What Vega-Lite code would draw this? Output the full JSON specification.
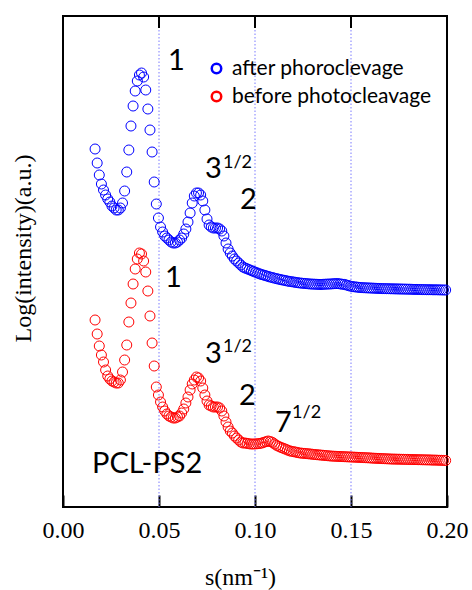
{
"$schema": "https://vega.github.io/schema/vega-lite/v6.json",
"width": 384, "height": 491,
"autosize": {"type": "none"},
"padding": {"left": 63, "top": 16, "right": 25, "bottom": 83},
"background": "white",
"config": {"view": {"stroke": "black", "strokeWidth": 2}},
"resolve": {"axis": {"x": "independent", "y": "independent"}},
"layer": [
{
"data": {"values": [{"s": 0.05}, {"s": 0.10}, {"s": 0.15}]},
"mark": {"type": "rule", "color": "#7b7bff", "strokeWidth": 1, "strokeDash": [1.5, 2]},
"encoding": {
"x": {"field": "s", "type": "quantitative", "scale": {"domain": [0, 0.2], "nice": false}, "axis": null}
}
},
{
"data": {"values": [{"s": 0.05}, {"s": 0.10}, {"s": 0.15}]},
"mark": {"type": "rule", "color": "black", "strokeWidth": 2, "opacity": 1, "strokeOpacity": 1, "strokeDash": [12, 0.01]},
"encoding": {
"x": {"field": "s", "type": "quantitative", "axis": null},
"y": {"datum": 479, "type": "quantitative", "scale": {"domain": [0, 491], "nice": false}, "axis": null},
"y2": {"datum": 491}
}
},
{
"data": {"values": [
{"s":0.0167,"after":358,"before":187},{"s":0.0178,"after":344,"before":173},{"s":0.0189,"after":332,"before":161},{"s":0.0200,"after":323,"before":152},{"s":0.0211,"after":317,"before":145},{"s":0.0222,"after":312,"before":137},{"s":0.0233,"after":308,"before":131},{"s":0.0244,"after":305,"before":128},{"s":0.0255,"after":301,"before":126},{"s":0.0266,"after":299,"before":125},
{"s":0.0277,"after":297,"before":124},{"s":0.0288,"after":297,"before":124},{"s":0.0299,"after":299,"before":127},{"s":0.0310,"after":304,"before":135},{"s":0.0321,"after":316,"before":147},{"s":0.0332,"after":335,"before":162},{"s":0.0343,"after":357,"before":185},{"s":0.0354,"after":381,"before":204},{"s":0.0365,"after":401,"before":223},{"s":0.0376,"after":416,"before":238},
{"s":0.0387,"after":426,"before":248},{"s":0.0398,"after":432,"before":254},{"s":0.0409,"after":434,"before":253},{"s":0.0420,"after":430,"before":246},{"s":0.0431,"after":417,"before":235},{"s":0.0442,"after":398,"before":216},{"s":0.0453,"after":377,"before":191},{"s":0.0464,"after":355,"before":164},{"s":0.0475,"after":325,"before":141},{"s":0.0486,"after":303,"before":120},
{"s":0.0497,"after":289,"before":112},{"s":0.0508,"after":280,"before":105},{"s":0.0519,"after":275,"before":100},{"s":0.0530,"after":271,"before":96},{"s":0.0541,"after":269,"before":93},{"s":0.0552,"after":267,"before":91},{"s":0.0563,"after":265,"before":90},{"s":0.0574,"after":264,"before":89},{"s":0.0585,"after":264,"before":89},{"s":0.0596,"after":265,"before":90},
{"s":0.0607,"after":267,"before":91},{"s":0.0618,"after":269,"before":94},{"s":0.0629,"after":273,"before":98},{"s":0.0640,"after":278,"before":104},{"s":0.0651,"after":285,"before":110},{"s":0.0662,"after":294,"before":117},{"s":0.0673,"after":304,"before":123},{"s":0.0684,"after":311,"before":127},{"s":0.0695,"after":314,"before":130},{"s":0.0706,"after":314,"before":129},
{"s":0.0717,"after":312,"before":126},{"s":0.0728,"after":306,"before":119},{"s":0.0739,"after":297,"before":112},{"s":0.0750,"after":288,"before":106},{"s":0.0761,"after":282,"before":102},{"s":0.0772,"after":280,"before":101},{"s":0.0783,"after":279,"before":100},{"s":0.0794,"after":279,"before":100},{"s":0.0805,"after":279,"before":100},{"s":0.0816,"after":278,"before":99},
{"s":0.0827,"after":276,"before":96},{"s":0.0838,"after":271,"before":91},{"s":0.0849,"after":264,"before":85},{"s":0.0860,"after":258,"before":80},{"s":0.0871,"after":254,"before":76},{"s":0.0882,"after":251,"before":74},{"s":0.0893,"after":248,"before":71},{"s":0.0904,"after":246,"before":69},{"s":0.0915,"after":244,"before":67},{"s":0.0926,"after":242,"before":65},
{"s":0.0937,"after":240,"before":64},{"s":0.0948,"after":239,"before":64},{"s":0.0959,"after":238.2,"before":63.6},{"s":0.0970,"after":237.3,"before":63.2},{"s":0.0981,"after":236.4,"before":63},{"s":0.0992,"after":235.6,"before":63},{"s":0.1003,"after":234.8,"before":63.1},{"s":0.1014,"after":233.9,"before":63.3},{"s":0.1025,"after":233.1,"before":63.5},{"s":0.1036,"after":232.4,"before":64},
{"s":0.1047,"after":231.8,"before":64.7},{"s":0.1058,"after":231.2,"before":65.4},{"s":0.1069,"after":230.5,"before":66},{"s":0.1080,"after":229.9,"before":65.4},{"s":0.1091,"after":229.4,"before":64.6},{"s":0.1102,"after":228.8,"before":63},{"s":0.1113,"after":228.3,"before":61.6},{"s":0.1124,"after":227.8,"before":60.6},{"s":0.1135,"after":227.3,"before":59.6},{"s":0.1146,"after":226.9,"before":58.8},
{"s":0.1157,"after":226.5,"before":58},{"s":0.1168,"after":226,"before":57.1},{"s":0.1179,"after":225.6,"before":56.2},{"s":0.1190,"after":225.3,"before":55.7},{"s":0.1201,"after":225,"before":55.3},{"s":0.1212,"after":224.6,"before":54.9},{"s":0.1223,"after":224.3,"before":54.4},{"s":0.1234,"after":224,"before":54},{"s":0.1245,"after":223.8,"before":53.8},{"s":0.1256,"after":223.6,"before":53.6},
{"s":0.1267,"after":223.4,"before":53.4},{"s":0.1278,"after":223.2,"before":53.2},{"s":0.1289,"after":223,"before":53},{"s":0.1300,"after":222.9,"before":52.7},{"s":0.1311,"after":222.8,"before":52.5},{"s":0.1322,"after":222.7,"before":52.3},{"s":0.1333,"after":222.6,"before":52.1},{"s":0.1344,"after":222.5,"before":51.9},{"s":0.1355,"after":222.7,"before":51.7},{"s":0.1366,"after":222.8,"before":51.5},
{"s":0.1377,"after":222.9,"before":51.3},{"s":0.1388,"after":223,"before":51.1},{"s":0.1399,"after":223.1,"before":50.9},{"s":0.1410,"after":223.3,"before":50.8},{"s":0.1421,"after":223.4,"before":50.7},{"s":0.1432,"after":223.4,"before":50.6},{"s":0.1443,"after":223.1,"before":50.5},{"s":0.1454,"after":222.8,"before":50.4},{"s":0.1465,"after":222.6,"before":50.3},{"s":0.1476,"after":222,"before":50.2},
{"s":0.1487,"after":221.4,"before":50.1},{"s":0.1498,"after":220.8,"before":50},{"s":0.1509,"after":220.4,"before":49.9},{"s":0.1520,"after":220.1,"before":49.8},{"s":0.1531,"after":219.9,"before":49.7},{"s":0.1542,"after":219.6,"before":49.6},{"s":0.1553,"after":219.4,"before":49.5},{"s":0.1564,"after":219.3,"before":49.4},{"s":0.1575,"after":219.2,"before":49.3},{"s":0.1586,"after":219.1,"before":49.2},
{"s":0.1597,"after":219,"before":49.1},{"s":0.1608,"after":218.9,"before":48.9},{"s":0.1619,"after":218.8,"before":48.8},{"s":0.1630,"after":218.7,"before":48.7},{"s":0.1641,"after":218.6,"before":48.6},{"s":0.1652,"after":218.5,"before":48.5},{"s":0.1663,"after":218.4,"before":48.4},{"s":0.1674,"after":218.4,"before":48.3},{"s":0.1685,"after":218.3,"before":48.2},{"s":0.1696,"after":218.3,"before":48.1},
{"s":0.1707,"after":218.2,"before":48},{"s":0.1718,"after":218.2,"before":47.9},{"s":0.1729,"after":218.1,"before":47.9},{"s":0.1740,"after":218.1,"before":47.8},{"s":0.1751,"after":218,"before":47.8},{"s":0.1762,"after":218,"before":47.7},{"s":0.1773,"after":217.9,"before":47.7},{"s":0.1784,"after":217.9,"before":47.6},{"s":0.1795,"after":217.8,"before":47.6},{"s":0.1806,"after":217.8,"before":47.5},
{"s":0.1817,"after":217.7,"before":47.5},{"s":0.1828,"after":217.6,"before":47.4},{"s":0.1839,"after":217.6,"before":47.4},{"s":0.1850,"after":217.5,"before":47.3},{"s":0.1861,"after":217.5,"before":47.3},{"s":0.1872,"after":217.4,"before":47.2},{"s":0.1883,"after":217.4,"before":47.2},{"s":0.1894,"after":217.3,"before":47.1},{"s":0.1905,"after":217.3,"before":47.1},{"s":0.1916,"after":217.3,"before":47},
{"s":0.1927,"after":217.2,"before":46.9},{"s":0.1938,"after":217.2,"before":46.9},{"s":0.1949,"after":217.2,"before":46.8},{"s":0.1960,"after":217.1,"before":46.7},{"s":0.1971,"after":217.1,"before":46.7},{"s":0.1982,"after":217,"before":46.6},{"s":0.1993,"after":217,"before":46.5}
]},
"transform": [{"fold": ["after", "before"], "as": ["series", "I"]}],
"mark": {"type": "point", "filled": false, "size": 100, "strokeWidth": 1, "opacity": 1, "shape": "circle"},
"encoding": {
"x": {"field": "s", "type": "quantitative", "scale": {"domain": [0, 0.2], "nice": false},
"axis": {"orient": "bottom", "offset": -12, "values": [0, 0.05, 0.1, 0.15, 0.2], "format": ".2f", "domain": false,
"ticks": true, "tickSize": 12, "tickColor": "black", "tickWidth": 2, "tickOpacity": 1,
"labelFont": "Liberation Serif", "labelFontSize": 24, "labelColor": "black", "labelPadding": 11, "labelFlush": false,
"grid": false,
"title": "s(nm⁻¹)", "titleFont": "Liberation Serif", "titleFontSize": 24, "titleFontWeight": "normal", "titleColor": "black", "titlePadding": 23, "titleX": 177}},
"y": {"field": "I", "type": "quantitative", "scale": {"domain": [0, 491], "nice": false},
"axis": {"domain": false, "ticks": false, "labels": false, "grid": false,
"title": "Log(intensity)(a.u.)", "titleFont": "Liberation Serif", "titleFontSize": 24, "titleFontWeight": "normal", "titleColor": "black", "titlePadding": 28, "titleY": 232}},
"color": {"field": "series", "type": "nominal",
"scale": {"domain": ["after", "before"], "range": ["#0000FF", "#FF0000"]},
"legend": {"orient": "none", "legendX": 143, "legendY": 42, "title": null, "padding": 0,
"symbolType": "circle", "symbolSize": 90, "symbolStrokeWidth": 2.5,
"labelFont": "Lato", "labelFontSize": 21, "labelColor": "black", "labelOffset": 5, "labelLimit": 400, "rowPadding": 6,
"labelExpr": "datum.value == 'after' ? 'after phoroclevage' : 'before photocleavage'",
"encode": {"symbols": {"update": {"stroke": {"signal": "datum.value == 'after' ? '#0070C0' : '#FF0000'"}}}}}}
}
},
{
"data": {"values": [
{"s":0.0547,"I":437,"t":"1"},{"s":0.0740,"I":329,"t":"3"},{"s":0.0922,"I":298,"t":"2"},
{"s":0.0531,"I":220,"t":"1"},{"s":0.0740,"I":144,"t":"3"},{"s":0.0917,"I":102,"t":"2"},
{"s":0.1104,"I":75,"t":"7"},{"s":0.0151,"I":34,"t":"PCL-PS2"}
]},
"mark": {"type": "text", "align": "left", "baseline": "alphabetic", "font": "Lato", "fontSize": 29, "color": "black"},
"encoding": {
"x": {"field": "s", "type": "quantitative", "axis": null},
"y": {"field": "I", "type": "quantitative", "axis": null},
"text": {"field": "t"}
}
},
{
"data": {"values": [
{"s":0.0833,"I":339,"t":"1/2"},{"s":0.0833,"I":155,"t":"1/2"},{"s":0.1193,"I":89,"t":"1/2"}
]},
"mark": {"type": "text", "align": "left", "baseline": "alphabetic", "font": "Lato", "fontSize": 18, "color": "black"},
"encoding": {
"x": {"field": "s", "type": "quantitative", "axis": null},
"y": {"field": "I", "type": "quantitative", "axis": null},
"text": {"field": "t"}
}
}
]
}
